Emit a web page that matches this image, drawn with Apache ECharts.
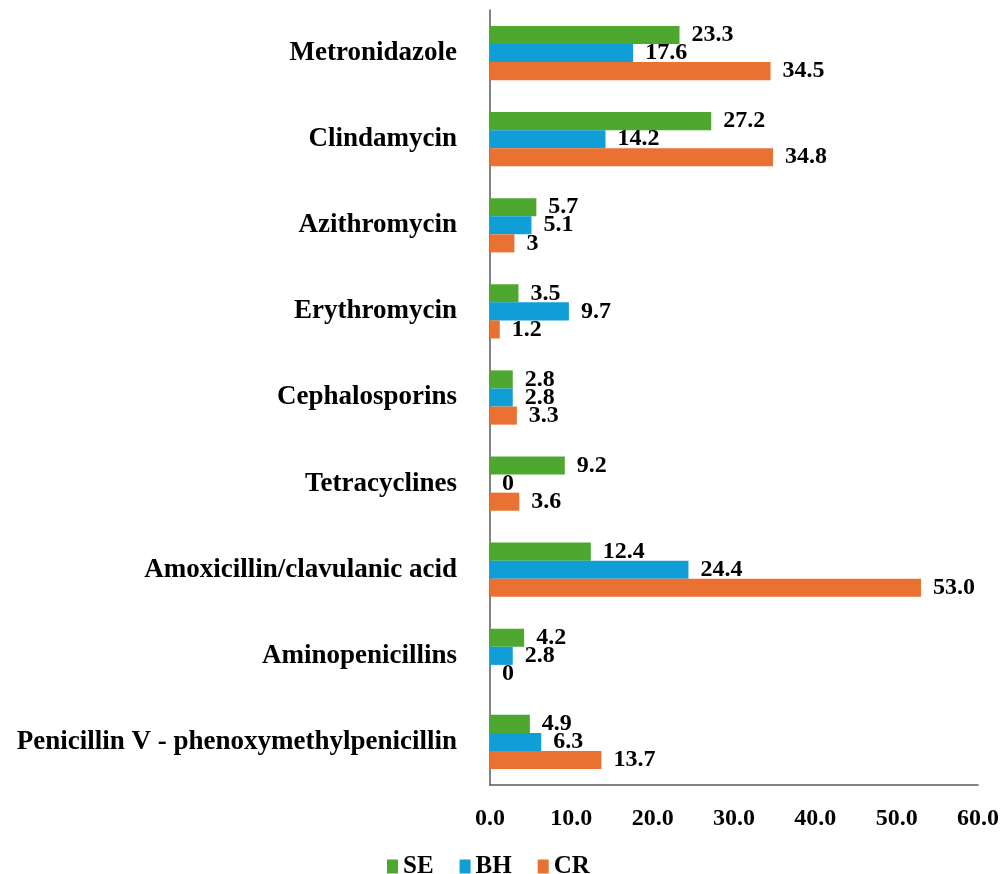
<!DOCTYPE html>
<html>
<head>
    <meta charset="UTF-8">
    <title>antibiotics by region</title>
    <script src="https://cdn.jsdelivr.net/npm/echarts@6/dist/echarts.min.js"></script>
    <style>
        body, html {
            margin: 0;
            padding: 0;
            height: 100%;
            width: 100%;
            background: #fff;
        }

        #chart {
            width: 1003px;
            height: 874px;
        }
    </style>
</head>
<body>
<div id="chart"></div>
<script>
    // categories, listed top to bottom as in the figure
    var drugs = ['Metronidazole', 'Clindamycin', 'Azithromycin', 'Erythromycin', 'Cephalosporins',
        'Tetracyclines', 'Amoxicillin/clavulanic acid', 'Aminopenicillins',
        'Penicillin V - phenoxymethylpenicillin'];
    // values kept as the printed strings so labels read like the original
    var se = ['23.3', '27.2', '5.7', '3.5', '2.8', '9.2', '12.4', '4.2', '4.9'];
    var bh = ['17.6', '14.2', '5.1', '9.7', '2.8', '0', '24.4', '2.8', '6.3'];
    var cr = ['34.5', '34.8', '3', '1.2', '3.3', '3.6', '53.0', '0', '13.7'];
    var xTicks = [0, 10, 20, 30, 40, 50, 60];

    var font = 'Palatino Linotype, Book Antiqua, Liberation Serif, serif';

    function makeSeries(name, data, color) {
        return {
            name: name,
            type: 'bar',
            data: data,
            barGap: '0%',
            barCategoryGap: '37%',
            itemStyle: {color: color},
            label: {
                show: true,
                position: 'right',
                distance: 12,
                color: '#000',
                fontFamily: font,
                fontWeight: 'bold',
                fontSize: 24,
                formatter: function (p) {
                    return p.data;
                }
            }
        };
    }

    var chart = echarts.init(document.getElementById('chart'), null, {renderer: 'canvas'});
    chart.setOption({
        animation: false,
        grid: {left: 490, right: 25, top: 10, bottom: 89, containLabel: false},
        legend: {
            data: ['SE', 'BH', 'CR'],
            icon: 'rect',
            left: 382,
            top: 849,
            itemWidth: 11,
            itemHeight: 14,
            itemGap: 26,
            textStyle: {fontFamily: font, fontWeight: 'bold', fontSize: 25, color: '#000'}
        },
        xAxis: {
            type: 'value',
            min: xTicks[0],
            max: xTicks[xTicks.length - 1],
            interval: 10,
            splitLine: {show: false},
            axisTick: {show: false},
            axisLine: {show: true, lineStyle: {color: '#595959', width: 1.5}},
            axisLabel: {
                margin: 22,
                color: '#000',
                fontFamily: font,
                fontWeight: 'bold',
                fontSize: 24,
                formatter: function (v) {
                    return v.toFixed(1);
                }
            }
        },
        yAxis: {
            type: 'category',
            data: drugs,
            inverse: true,
            axisTick: {show: false},
            axisLine: {show: true, lineStyle: {color: '#595959', width: 1.5}},
            axisLabel: {
                margin: 33,
                color: '#000',
                fontFamily: font,
                fontWeight: 'bold',
                fontSize: 27
            }
        },
        series: [
            makeSeries('SE', se, '#4EA72E'),
            makeSeries('BH', bh, '#0F9ED5'),
            makeSeries('CR', cr, '#E97132')
        ]
    });
</script>
</body>
</html>
